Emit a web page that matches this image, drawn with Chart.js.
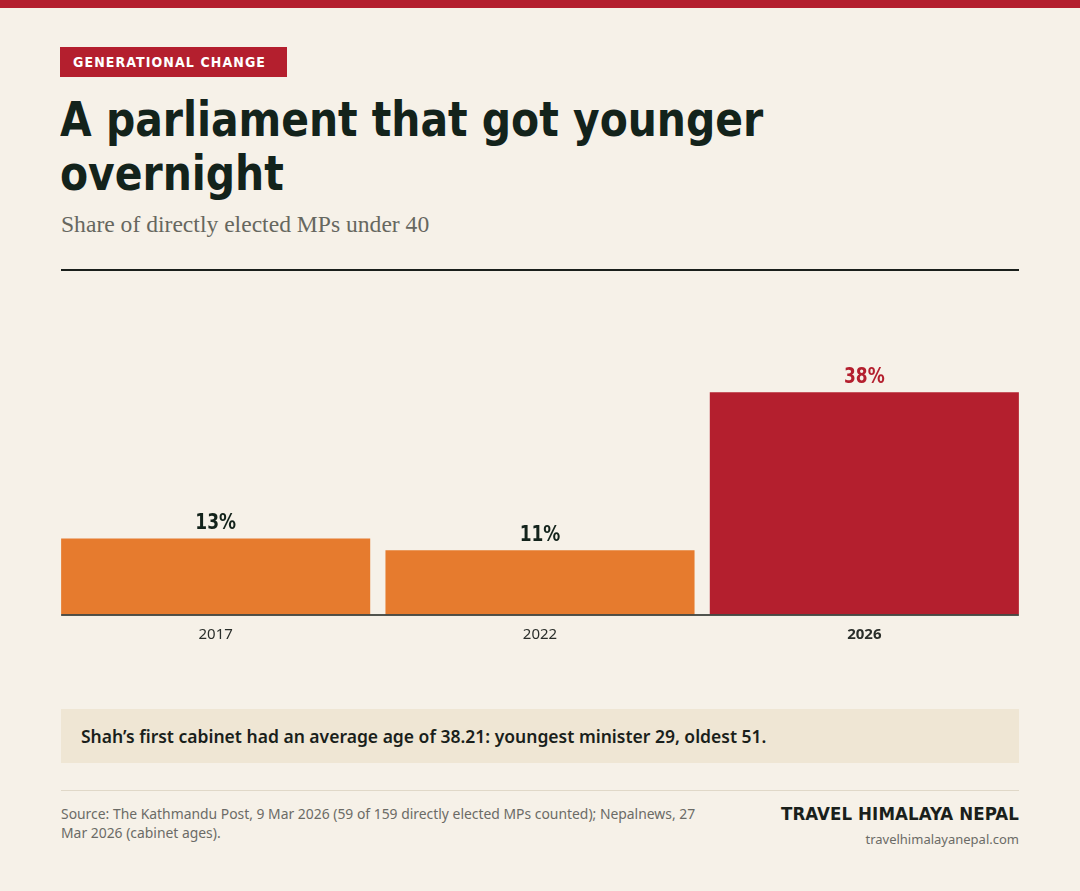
<!DOCTYPE html>
<html>
<head>
<meta charset="utf-8">
<script src="https://cdn.jsdelivr.net/npm/chart.js@4"></script>
<style>
  html, body { margin:0; padding:0; }
  body { width:1080px; height:891px; background:#f6f1e8; position:relative; overflow:hidden; font-family:"Noto Sans", sans-serif; }
  .topbar { position:absolute; left:0; top:0; width:1080px; height:8px; background:#b41f2e; }
  .tag { position:absolute; left:60px; top:47px; width:227px; height:30px; background:#b41f2e; color:#fff;
         font-family:"DejaVu Sans Condensed","DejaVu Sans",sans-serif; font-weight:bold; font-size:14px; letter-spacing:1.1px;
         line-height:30px; box-sizing:border-box; padding-left:13px; white-space:nowrap; }
  .title { position:absolute; left:60px; top:92px; width:1020px; color:#13231b; white-space:nowrap;
           font-family:"DejaVu Sans Condensed","DejaVu Sans",sans-serif; font-weight:bold; font-size:48px; line-height:54px; letter-spacing:0;
           transform:scaleX(0.947); transform-origin:0 0; }
  .subtitle { position:absolute; left:61px; top:211px; color:#66675f; font-family:"Liberation Serif",serif; font-size:23.6px; }
  .rule { position:absolute; left:61px; top:269px; width:958px; height:2px; background:#1a1f1b; }
  #wrap { position:absolute; left:0; top:290px; width:1080px; height:370px; }
  .callout { position:absolute; left:61px; top:709px; width:958px; height:54px; background:#efe6d4; box-sizing:border-box;
             padding-left:20px; line-height:54px; font-size:17.5px; font-weight:600; color:#1a1f1b; white-space:nowrap; }
  .hr { position:absolute; left:61px; top:790px; width:958px; height:1px; background:#e0d8c8; }
  .source { position:absolute; left:61px; top:804px; width:660px; font-size:13.9px; line-height:19px; color:#6b6b66; }
  .brand { position:absolute; right:61px; top:803px; font-family:"DejaVu Sans Condensed","DejaVu Sans",sans-serif; font-weight:bold; font-size:18.5px; color:#1a1f1b; letter-spacing:0.1px; }
  .url { position:absolute; right:61px; top:830px; font-size:13px; color:#6b6b66; }
</style>
</head>
<body>
<div class="topbar"></div>
<div class="tag">GENERATIONAL CHANGE</div>
<div class="title">A parliament that got younger<br>overnight</div>
<div class="subtitle">Share of directly elected MPs under 40</div>
<div class="rule"></div>
<div id="wrap"><canvas id="c" width="1080" height="370"></canvas></div>
<div class="callout">Shah’s first cabinet had an average age of 38.21: youngest minister 29, oldest 51.</div>
<div class="hr"></div>
<div class="source">Source: The Kathmandu Post, 9 Mar 2026 (59 of 159 directly elected MPs counted); Nepalnews, 27 Mar 2026 (cabinet ages).</div>
<div class="brand">TRAVEL HIMALAYA NEPAL</div>
<div class="url">travelhimalayanepal.com</div>
<script>
const categories = ["2017", "2022", "2026"];
const shareUnder40 = [13, 11, 38];
const valueLabels = ["13%", "11%", "38%"];
const barColors = ["#e67b2e", "#e67b2e", "#b41f2e"];
const labelColors = ["#13231b", "#13231b", "#b41f2e"];

const condensed = '"DejaVu Sans Condensed","DejaVu Sans",sans-serif';

const overlay = {
  id: 'overlay',
  afterDatasetsDraw(chart) {
    const ctx = chart.ctx;
    const meta = chart.getDatasetMeta(0);
    const area = chart.chartArea;
    ctx.save();
    const first = meta.data[0], last = meta.data[meta.data.length - 1];
    ctx.strokeStyle = '#1a1f1b';
    ctx.lineWidth = 1.5;
    ctx.beginPath();
    ctx.moveTo(first.x - first.width / 2, area.bottom + 0.5);
    ctx.lineTo(last.x + last.width / 2, area.bottom + 0.5);
    ctx.stroke();
    ctx.textAlign = 'center';
    ctx.textBaseline = 'alphabetic';
    meta.data.forEach((bar, i) => {
      ctx.save();
      ctx.translate(bar.x, bar.y - 9);
      ctx.scale(0.9, 1);
      ctx.font = 'bold 21px ' + condensed;
      ctx.fillStyle = labelColors[i];
      ctx.fillText(valueLabels[i], 0, 0);
      ctx.restore();
    });
    ctx.restore();
  }
};

new Chart(document.getElementById('c'), {
  type: 'bar',
  data: {
    labels: categories,
    datasets: [{
      data: shareUnder40,
      backgroundColor: barColors,
      borderWidth: 0,
      categoryPercentage: 1,
      barPercentage: 0.953
    }]
  },
  options: {
    responsive: false,
    animation: false,
    devicePixelRatio: 1,
    layout: { padding: { left: 53.5, right: 53.5, top: 32, bottom: 5.5 } },
    plugins: { legend: { display: false }, tooltip: { enabled: false } },
    scales: {
      y: { display: false, min: 0, max: 50 },
      x: {
        grid: { display: false, drawTicks: false },
        border: { display: false },
        ticks: {
          padding: 11,
          color: '#2a2e2a',
          font: (ctx) => ({ family: '"Noto Sans", sans-serif', size: 15, weight: ctx.index === 2 ? 'bold' : 'normal' })
        }
      }
    }
  },
  plugins: [overlay]
});
</script>
</body>
</html>
